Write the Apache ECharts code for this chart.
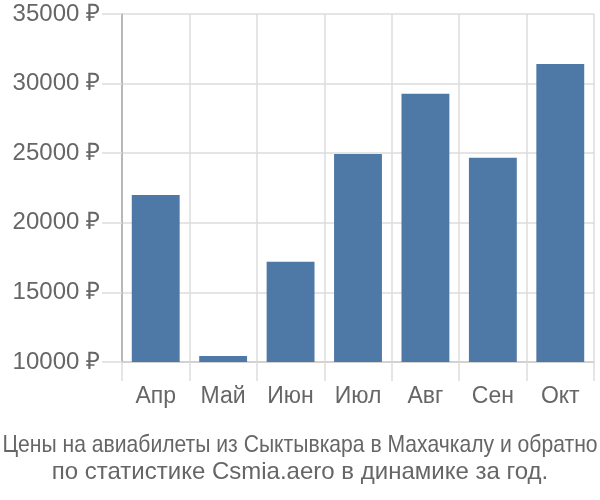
<!DOCTYPE html>
<html><head><meta charset="utf-8">
<script src="https://cdn.jsdelivr.net/npm/echarts@6/dist/echarts.min.js"></script>
<style>html,body{margin:0;padding:0;background:#fff}#c{width:600px;height:500px}</style>
</head><body><div id="c"></div>
<script>
var categories = ['Апр','Май','Июн','Июл','Авг','Сен','Окт'];
var prices = [22000, 10430, 17200, 24950, 29270, 24680, 31410];
var yTicks = [10000, 15000, 20000, 25000, 30000, 35000];
var titleLines = ['Цены на авиабилеты из Сыктывкара в Махачкалу и обратно', 'по статистике Csmia.aero в динамике за год.'];

var chart = echarts.init(document.getElementById('c'), null, {renderer:'canvas'});
chart.setOption({
  animation: false,
  graphic: [
    {type:'text', x:300, y:445, originX:0, originY:0, scaleX:0.88,
     style:{text: titleLines[0], x:0, y:0, align:'center', verticalAlign:'middle', font:'24px "Liberation Sans"', fill:'#666'}},
    {type:'text', x:300, y:472,
     style:{text: titleLines[1], x:0, y:0, align:'center', verticalAlign:'middle', font:'24px "Liberation Sans"', fill:'#666'}}
  ],
  grid: {left:122, right:6, top:14, bottom:138, containLabel:false},
  xAxis: {
    type:'category', data: categories,
    axisLine:{lineStyle:{color:'#ccc', width:1.5}},
    axisTick:{show:true, length:19, lineStyle:{color:'#ddd', width:1.5}},
    splitLine:{show:true, lineStyle:{color:'#ddd', width:1.5}},
    axisLabel:{margin:23, fontFamily:'Liberation Sans', fontSize:23, color:'#666'}
  },
  yAxis: {
    type:'value', min:yTicks[0], max:yTicks[yTicks.length-1], interval:5000,
    axisLine:{show:true, lineStyle:{color:'#aaa', width:1.5}},
    axisTick:{show:true, length:20, lineStyle:{color:'#ddd', width:1.5}},
    splitLine:{show:true, lineStyle:{color:'#ddd', width:1.5}},
    axisLabel:{margin:22, fontFamily:'Liberation Sans', fontSize:24, color:'#666', formatter: function(v){return v + ' ₽';}}
  },
  series: [{
    type:'bar', data: prices, barCategoryGap:'29%',
    itemStyle:{color:'#4e78a5'}
  }]
});
</script></body></html>
